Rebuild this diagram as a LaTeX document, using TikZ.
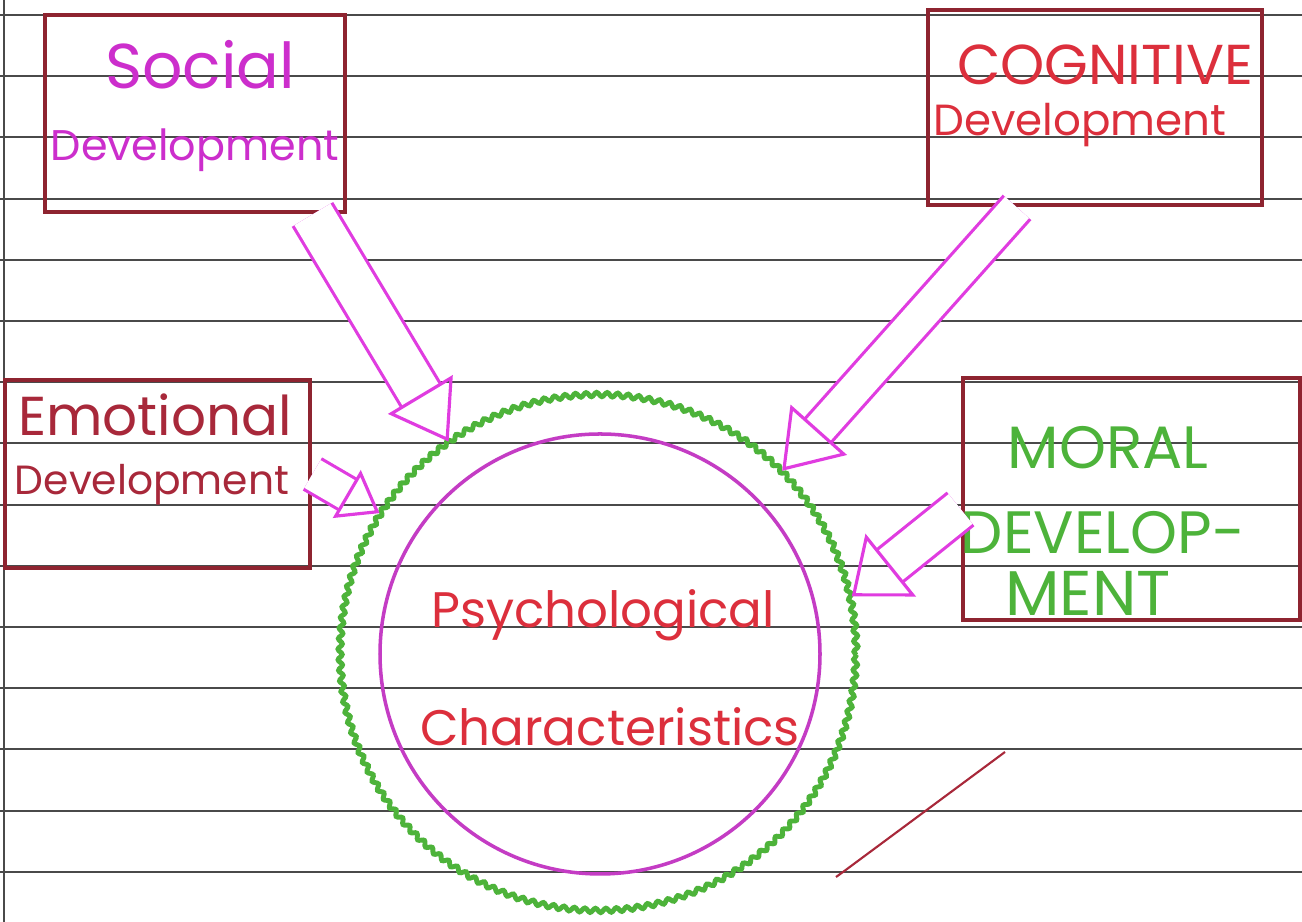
\documentclass[tikz,border=0pt]{standalone}
\usepackage{fontspec}
\setmainfont{Poppins}
\usetikzlibrary{arrows.meta, positioning, calc, decorations.pathmorphing}
\definecolor{ruled}{HTML}{4A4A4A}
\definecolor{boxred}{HTML}{8E2430}
\definecolor{pinkmag}{HTML}{CC2ECC}
\definecolor{scarlet}{HTML}{DC2F3C}
\definecolor{maroon}{HTML}{A8283A}
\definecolor{leaf}{HTML}{4DB33A}
\definecolor{violet}{HTML}{C43CC4}
\definecolor{arrowpink}{HTML}{E03CE0}

\tikzset{
  devbox/.style={draw=boxred, line width=1.4pt, inner sep=0pt},
  hollow/.style={draw=arrowpink, double=white, double distance=0.38cm, line width=0.9pt,
    -{Triangle[open, length=0.55cm, width=0.75cm]}},
  handtext/.style={font=\fontsize{#1}{#1}\selectfont, inner sep=1pt}
}

\begin{document}
\begin{tikzpicture}

% Paper
\fill[white] (0,0) rectangle (13.02,9.22);
\useasboundingbox (0,0) rectangle (13.02,9.22);
\foreach \k in {0,...,14}
  \draw[ruled, line width=0.6pt] (0,9.07-0.612*\k) -- (13.02,9.07-0.612*\k);
\draw[ruled, line width=0.6pt] (0.04,0) -- (0.04,9.22);

% --- Boxes ---
\node[devbox, minimum width=3.0cm, minimum height=1.97cm] (social) at (1.95,8.085) {};
\node[devbox, minimum width=3.34cm, minimum height=1.95cm] (cognitive) at (10.95,8.145) {};
\node[devbox, minimum width=3.05cm, minimum height=1.88cm] (emotional) at (1.575,4.48) {};
\node[devbox, minimum width=3.37cm, minimum height=2.42cm] (moral) at (11.315,4.23) {};

% Box labels
\node[handtext=18, text=pinkmag] (socialA) at (2.0,8.57) {Social};
\node[handtext=12.2, text=pinkmag] (socialB) at (1.95,7.72) {Development};
\node[handtext=16, text=scarlet] (cognitiveA) at (11.05,8.57) {COGNITIVE};
\node[handtext=12.4, text=scarlet] (cognitiveB) at (10.8,7.97) {Development};
\node[handtext=15.6, text=maroon] (emotionalA) at (1.55,5.07) {Emotional};
\node[handtext=11.6, text=maroon] (emotionalB) at (1.52,4.37) {Development};
\node[handtext=17, text=leaf] (moralA) at (11.08,4.74) {MORAL};
\node[handtext=17, text=leaf] (moralB) at (11.03,3.89) {DEVELOP-};
\node[handtext=18, text=leaf] (moralC) at (10.88,3.29) {MENT};

% --- Centre circle ---
\node[circle, minimum size=5.16cm, draw=leaf, line width=1.4pt,
  decorate, decoration={snake, amplitude=0.6pt, segment length=3pt}] (psych) at (5.98,2.67) {};
\node[circle, minimum size=4.4cm, draw=violet, line width=1pt] (inner) at (6.0,2.68) {};
\node[handtext=14.2, text=scarlet] (psychA) at (6.03,3.07) {Psychological};
\node[handtext=14.2, text=scarlet] (psychB) at (6.1,1.95) {Characteristics};

% --- Arrows into the circle ---
\draw[hollow, double distance=0.42cm] ([xshift=-0.35cm]social.south east) -- (psych.125);
\draw[hollow, double distance=0.32cm] ([xshift=-0.78cm]cognitive.south) -- (psych.45);
\draw[hollow, double distance=0.32cm, -{Triangle[open, length=0.38cm, width=0.55cm]}] (emotional.east) -- (psych.147);
\draw[hollow, -{Triangle[open, length=0.5cm, width=0.8cm]}] ([yshift=-0.1cm]moral.west) -- (psych.13);

% stray pen stroke
\draw[maroon, line width=0.6pt] (10.05,1.70) -- (8.43,0.50) -- (8.36,0.45);

\end{tikzpicture}
\end{document}
